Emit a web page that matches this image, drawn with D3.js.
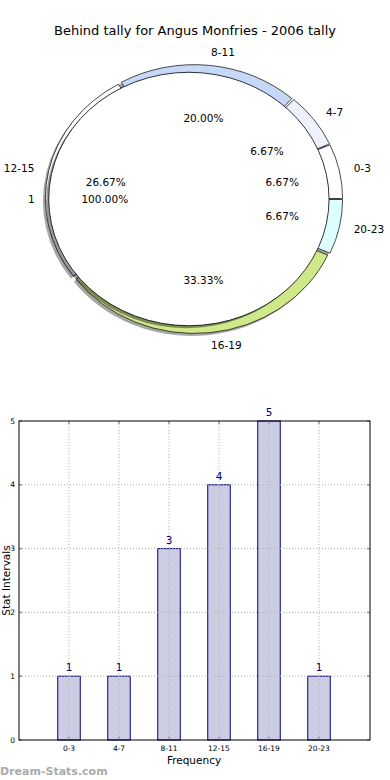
<!DOCTYPE html>
<meta charset="utf-8">
<style>
  body { margin: 0; background: #fff; }
  svg { display: block; font-family: "DejaVu Sans", sans-serif; }
  .grid line { stroke: #b0b0b0; stroke-dasharray: 1,2; stroke-width: 1; }
</style>
<body>
<svg id="chart" width="390" height="780"></svg>
<script src="https://cdn.jsdelivr.net/npm/d3@7"></script>
<script>
  const title = "Behind tally for Angus Monfries - 2006 tally";
  const categories = ["0-3", "4-7", "8-11", "12-15", "16-19", "20-23"];
  const counts = [1, 1, 3, 4, 5, 1];
  const sliceColors = ["#ffffff", "#eef2fd", "#c6d8f8", "#ffffff", "#cfe88a", "#dcfefe"];
  const innerLabels = ["1"];
  const innerValues = [1];
  const yTicks = [0, 1, 2, 3, 4, 5];

  const svg = d3.select("#chart");

  svg.append("text")
    .attr("x", 195).attr("y", 35)
    .attr("text-anchor", "middle")
    .style("font-size", "13px")
    .text(title);

  // ---------- pie (matplotlib style, stretched into an ellipse) ----------
  const cx = 194, cy = 199, rx = 146, ry = 132;
  const innerScale = 0.96, innerExplode = 0.035, explode = 0.018;
  const shadowDx = -2.5 / rx, shadowDy = 2.5 / ry;

  // angles: start at east, run counter-clockwise
  const pie = d3.pie().sort(null).startAngle(Math.PI / 2).endAngle(Math.PI / 2 - 2 * Math.PI);
  const arcs = pie(counts);
  const unitArc = d3.arc().innerRadius(0).outerRadius(1);
  const innerArcs = pie(innerValues);
  const innerArc = d3.arc().innerRadius(0).outerRadius(innerScale);

  // mid angle in math convention (radians, CCW from east)
  const midTheta = a => Math.PI / 2 - (a.startAngle + a.endAngle) / 2;
  const total = d3.sum(counts);

  const pieG = svg.append("g").attr("transform", `translate(${cx},${cy}) scale(${rx},${ry})`);

  // outer shadows
  pieG.selectAll("path.oshadow").data(arcs).join("path")
    .attr("d", unitArc)
    .attr("transform", a => {
      const t = midTheta(a);
      return `translate(${explode * Math.cos(t) + shadowDx},${-explode * Math.sin(t) + shadowDy})`;
    })
    .attr("fill", "#000").attr("fill-opacity", 0.35);

  pieG.selectAll("path.owedge").data(arcs).join("path")
    .attr("d", unitArc)
    .attr("transform", a => {
      const t = midTheta(a);
      return `translate(${explode * Math.cos(t)},${-explode * Math.sin(t)})`;
    })
    .attr("fill", (a, i) => sliceColors[i])
    .attr("stroke", "#000").attr("stroke-width", 0.7)
    .attr("vector-effect", "non-scaling-stroke");

  // inner single wedge, exploded to the left
  const innerOff = a => {
    const t = midTheta(a);
    return [innerExplode * Math.cos(t), -innerExplode * Math.sin(t)];
  };
  pieG.selectAll("path.ishadow").data(innerArcs).join("path")
    .attr("d", innerArc)
    .attr("transform", a => { const o = innerOff(a); return `translate(${o[0] + shadowDx},${o[1] + shadowDy})`; })
    .attr("fill", "#000").attr("fill-opacity", 0.4);

  pieG.selectAll("path.iwedge").data(innerArcs).join("path")
    .attr("d", innerArc)
    .attr("transform", a => { const o = innerOff(a); return `translate(${o[0]},${o[1]})`; })
    .attr("fill", "#fff")
    .attr("stroke", "#000").attr("stroke-width", 0.8)
    .attr("vector-effect", "non-scaling-stroke");

  // labels for outer wedges
  const labelG = svg.append("g").style("font-size", "10.5px").attr("fill", "#000");
  arcs.forEach((a, i) => {
    const t = midTheta(a);
    const ox = explode * Math.cos(t), oy = explode * Math.sin(t);
    const lx = cx + rx * (1.1 * Math.cos(t) + ox);
    const ly = cy - ry * (1.1 * Math.sin(t) + oy);
    labelG.append("text")
      .attr("x", lx).attr("y", ly).attr("dy", "0.35em")
      .attr("text-anchor", Math.cos(t) > 0 ? "start" : "end")
      .text(categories[i]);
    labelG.append("text")
      .attr("x", cx + rx * (0.6 * Math.cos(t) + ox))
      .attr("y", cy - ry * (0.6 * Math.sin(t) + oy))
      .attr("dy", "0.35em").attr("text-anchor", "middle")
      .text((counts[i] / total * 100).toFixed(2) + "%");
  });
  innerArcs.forEach((a, i) => {
    const t = midTheta(a);
    const o = innerOff(a);
    const icx = cx + o[0] * rx, icy = cy + o[1] * ry;
    labelG.append("text")
      .attr("x", icx + 1.1 * innerScale * rx * Math.cos(t))
      .attr("y", icy - 1.1 * innerScale * ry * Math.sin(t))
      .attr("dy", "0.35em")
      .attr("text-anchor", Math.cos(t) > 0 ? "start" : "end")
      .text(innerLabels[i]);
    labelG.append("text")
      .attr("x", icx + 0.6 * innerScale * rx * Math.cos(t))
      .attr("y", icy - 0.6 * innerScale * ry * Math.sin(t))
      .attr("dy", "0.35em").attr("text-anchor", "middle")
      .text((innerValues[i] / d3.sum(innerValues) * 100).toFixed(2) + "%");
  });

  // ---------- bar chart ----------
  const pLeft = 19, pRight = 370, pTop = 421, pBottom = 740;
  const x = d3.scaleLinear().domain([-1, 6.02]).range([pLeft, pRight]);
  const y = d3.scaleLinear().domain([0, 5]).range([pBottom, pTop]);
  const barW = 0.45;

  svg.selectAll("rect.bar").data(counts).join("rect")
    .attr("class", "bar")
    .attr("x", (d, i) => x(i - barW / 2))
    .attr("width", x(barW) - x(0))
    .attr("y", d => y(d))
    .attr("height", d => y(0) - y(d))
    .attr("fill", "#ccccE3")
    .attr("stroke", "#000080").attr("stroke-width", 1);

  const grid = svg.append("g").attr("class", "grid");
  grid.selectAll("line.v").data(categories).join("line")
    .attr("x1", (d, i) => x(i)).attr("x2", (d, i) => x(i))
    .attr("y1", pTop).attr("y2", pBottom);
  grid.selectAll("line.h").data(yTicks.slice(1, -1)).join("line")
    .attr("x1", pLeft).attr("x2", pRight)
    .attr("y1", d => y(d)).attr("y2", d => y(d));

  // inward tick marks
  const ticks = svg.append("g").attr("stroke", "#999").attr("stroke-width", 1.5);
  categories.forEach((c, i) => {
    ticks.append("line").attr("x1", x(i)).attr("x2", x(i)).attr("y1", pTop).attr("y2", pTop + 3);
    ticks.append("line").attr("x1", x(i)).attr("x2", x(i)).attr("y1", pBottom).attr("y2", pBottom - 3);
  });
  yTicks.forEach(v => {
    ticks.append("line").attr("x1", pLeft).attr("x2", pLeft + 3).attr("y1", y(v)).attr("y2", y(v));
    ticks.append("line").attr("x1", pRight).attr("x2", pRight - 3).attr("y1", y(v)).attr("y2", y(v));
  });

  svg.append("rect")
    .attr("x", pLeft).attr("y", pTop)
    .attr("width", pRight - pLeft).attr("height", pBottom - pTop)
    .attr("fill", "none").attr("stroke", "#000").attr("stroke-width", 1);

  // value labels
  svg.selectAll("text.val").data(counts).join("text")
    .attr("x", (d, i) => x(i)).attr("y", d => y(d) - 5)
    .attr("text-anchor", "middle")
    .attr("fill", "#000080")
    .style("font-size", "10.5px")
    .text(d => d);

  svg.selectAll("text.xt").data(categories).join("text")
    .attr("x", (d, i) => x(i)).attr("y", pBottom + 11)
    .attr("text-anchor", "middle")
    .style("font-size", "7.5px")
    .text(d => d);

  svg.selectAll("text.yt").data(yTicks).join("text")
    .attr("x", pLeft - 4).attr("y", d => y(d)).attr("dy", "0.35em")
    .attr("text-anchor", "end")
    .style("font-size", "7.5px")
    .text(d => d);

  svg.append("text")
    .attr("x", x(2.5)).attr("y", 764)
    .attr("text-anchor", "middle")
    .style("font-size", "10.5px")
    .text("Frequency");

  svg.append("text")
    .attr("transform", `translate(10,${(pTop + pBottom) / 2}) rotate(-90)`)
    .attr("text-anchor", "middle")
    .style("font-size", "10.5px")
    .text("Stat Intervals");

  svg.append("text")
    .attr("x", 0).attr("y", 775)
    .attr("fill", "#aaaaaa")
    .style("font-size", "11px").style("font-weight", "bold")
    .text("Dream-Stats.com");
</script>
</body>
